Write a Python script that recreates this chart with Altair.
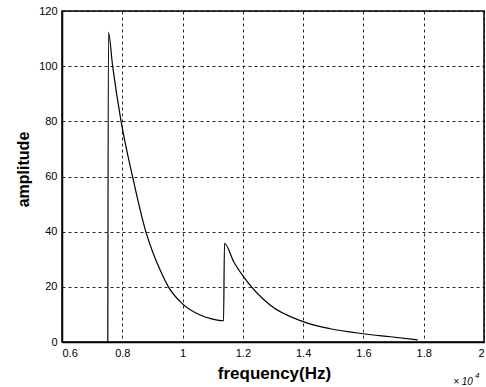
import altair as alt
import pandas as pd

freq = [0.752, 0.754, 0.768, 0.796, 0.834, 0.878, 0.903, 0.926, 0.953, 0.998,
        1.058, 1.10, 1.136, 1.139, 1.17, 1.202, 1.29, 1.40, 1.49, 1.60, 1.69, 1.78]
amp = [0, 112.3, 100, 80, 60, 40, 32, 26, 20, 14,
       9.8, 8.3, 7.7, 35.8, 29, 23.7, 13.4, 7.4, 4.8, 3.0, 1.9, 0.8]
x_ticks = [0.6, 0.8, 1.0, 1.2, 1.4, 1.6, 1.8, 2.0]
y_ticks = [0, 20, 40, 60, 80, 100, 120]

df = pd.DataFrame({"freq": freq, "amp": amp, "order": list(range(len(freq)))})

FONT = "Liberation Sans"

line = alt.Chart(df).mark_line(color="black", strokeWidth=1.2, interpolate="monotone").encode(
    x=alt.X("freq:Q", scale=alt.Scale(domain=[0.6, 2.0], nice=False, zero=False),
            axis=alt.Axis(values=x_ticks, format="~g", title="frequency(Hz)",
                          grid=True, gridColor="black", gridDash=[3, 3], gridWidth=1, gridOpacity=0.85,
                          domainColor="black", domainWidth=1.5, ticks=False,
                          labelFont=FONT, labelFontSize=11, labelColor="black", labelPadding=5,
                          titleFont=FONT, titleFontSize=17, titleFontWeight="bold", titleColor="black",
                          titleX=212, titleY=36, titleBaseline="alphabetic")),
    y=alt.Y("amp:Q", scale=alt.Scale(domain=[0, 120], nice=False),
            axis=alt.Axis(values=y_ticks, title="amplitude",
                          grid=True, gridColor="black", gridDash=[3, 3], gridWidth=1, gridOpacity=0.85,
                          domainColor="black", domainWidth=1.5, ticks=False,
                          labelFont=FONT, labelFontSize=11, labelColor="black", labelPadding=5,
                          titleFont=FONT, titleFontSize=16, titleFontWeight="bold", titleColor="black",
                          titleX=-39, titleY=158, titleAngle=-90, titleBaseline="middle")),
    order="order:Q",
)

times = alt.Chart(pd.DataFrame({"t": ["\u00d7 10"]})).mark_text(
    font=FONT, fontSize=10, fontStyle="italic", color="black", align="center", baseline="alphabetic"
).encode(x=alt.value(401), y=alt.value(374), text="t:N")

exp = alt.Chart(pd.DataFrame({"t": ["4"]})).mark_text(
    font=FONT, fontSize=8, fontStyle="italic", color="black", align="left", baseline="alphabetic"
).encode(x=alt.value(413), y=alt.value(367), text="t:N")

chart = alt.layer(line, times, exp).properties(
    width=422, height=331,
    autosize=alt.AutoSizeParams(type="none"),
    padding={"left": 62, "top": 11, "right": 2, "bottom": 45},
    background="white",
).configure_view(stroke="black", strokeWidth=1.5)

chart.save("out.html", embed_options={"renderer": "svg", "actions": False})
